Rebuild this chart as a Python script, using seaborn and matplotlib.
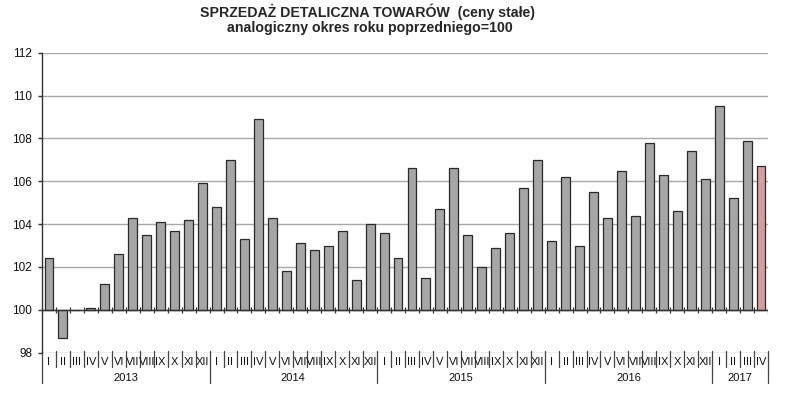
import pandas as pd
import matplotlib.pyplot as plt
import matplotlib.transforms as mtransforms
import seaborn as sns

# Values (same month of previous year = 100)
years = ["2013", "2014", "2015", "2016", "2017"]
months = ["I", "II", "III", "IV", "V", "VI", "VII", "VIII", "IX", "X", "XI", "XII"]
sales_2013 = [102.4, 98.7, 100.0, 100.1, 101.2, 102.6, 104.3, 103.5, 104.1, 103.7, 104.2, 105.9]
sales_2014 = [104.8, 107.0, 103.3, 108.9, 104.3, 101.8, 103.1, 102.8, 103.0, 103.7, 101.4, 104.0]
sales_2015 = [103.6, 102.4, 106.6, 101.5, 104.7, 106.6, 103.5, 102.0, 102.9, 103.6, 105.7, 107.0]
sales_2016 = [103.2, 106.2, 103.0, 105.5, 104.3, 106.5, 104.4, 107.8, 106.3, 104.6, 107.4, 106.1]
sales_2017 = [109.5, 105.2, 107.9, 106.7]
y_ticks = [98, 100, 102, 104, 106, 108, 110, 112]

series = [sales_2013, sales_2014, sales_2015, sales_2016, sales_2017]

# Build one long table: position, month, year, value
rows = []
for year, vals in zip(years, series):
    for m, v in zip(months, vals):
        rows.append({"year": year, "month": m, "value": v})
df = pd.DataFrame(rows)
df["pos"] = range(len(df))
df["delta"] = df["value"] - 100
df["kind"] = "past"
df.loc[df.index[-1], "kind"] = "latest"

sns.set_style("white")
plt.rcParams["font.family"] = ["Liberation Sans", "DejaVu Sans"]

fig = plt.figure(figsize=(7.86, 4.05), dpi=100)
ax = fig.add_axes([42 / 786, 1 - 352.7 / 405, (768 - 42) / 786, 300 / 405])

sns.barplot(data=df, x="pos", y="delta", hue="kind", dodge=False,
            palette={"past": "#a6a6a6", "latest": "#d99795"},
            width=0.64, bottom=100, edgecolor="#2a2a2a", linewidth=0.9,
            errorbar=None, legend=False, ax=ax)

n = len(df)
ax.set_xlim(-0.5, n - 0.5)
ax.set_ylim(98, 112)
ax.set_yticks(y_ticks)
ax.set_yticklabels([str(t) for t in y_ticks])
ax.set_xticks([])
ax.set_xlabel("")
ax.set_ylabel("")

ax.set_axisbelow(True)
ax.yaxis.grid(True, color="#a8a8a8", linewidth=1)
for side in ["top", "right", "bottom"]:
    ax.spines[side].set_visible(False)
ax.spines["left"].set_color("#333333")
ax.spines["left"].set_linewidth(1)
ax.tick_params(axis="y", left=True, length=3, width=1, color="#333333",
               pad=4, labelsize=8.5, labelcolor="#111111")

# category axis at 100 with small crossing ticks between months
ax.axhline(100, color="#333333", linewidth=1, zorder=3)
bounds = [p - 0.5 for p in df["pos"]] + [n - 0.5]
ax.vlines(bounds, 99.86, 100.14, color="#333333", linewidth=0.9, zorder=3)

# label area under the plot: months, years and separators
trans = mtransforms.blended_transform_factory(ax.transData, ax.transAxes)
ax.plot([-0.5, -0.5], [0, -0.101], transform=ax.transAxes, color="#333333",
        linewidth=1, clip_on=False)
year_starts = df.groupby("year")["pos"].min().tolist()
for b in bounds:
    long_sep = b + 0.5 in year_starts or b == n - 0.5
    ax.plot([b, b], [0.005, -0.101 if long_sep else -0.047], transform=trans,
            color="#444444", linewidth=0.9, clip_on=False)
for p, m in zip(df["pos"], df["month"]):
    ax.text(p, -0.031, m, transform=trans, ha="center", va="center",
            fontsize=8, color="#111111")
for year, grp in df.groupby("year"):
    mid = (grp["pos"].min() + grp["pos"].max()) / 2
    ax.text(mid, -0.083, year, transform=trans, ha="center", va="center",
            fontsize=8, color="#111111")

fig.text(367 / 786, 1 - 12 / 405, "SPRZEDAŻ DETALICZNA TOWARÓW  (ceny stałe)",
         ha="center", va="center", fontsize=10.2, fontweight="bold")
fig.text(370 / 786, 1 - 28 / 405, "analogiczny okres roku poprzedniego=100",
         ha="center", va="center", fontsize=10.2, fontweight="bold")

fig.savefig("out.png", dpi=100)
